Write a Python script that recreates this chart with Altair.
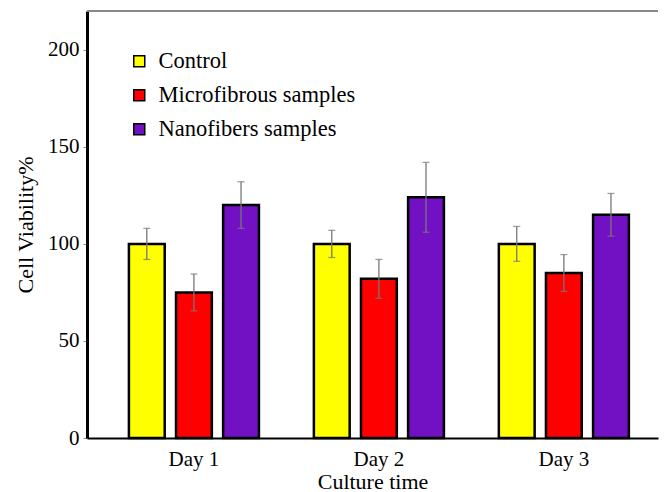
import altair as alt
import pandas as pd

days = ["Day 1", "Day 2", "Day 3"]
groups = ["Control", "Microfibrous samples", "Nanofibers samples"]
colors = ["#FFFF00", "#FF0000", "#7211C4"]

control_mean = [100, 100, 100]
control_err = [8, 7, 9]
micro_mean = [75, 82, 85]
micro_err = [9.5, 10, 9.5]
nano_mean = [120, 124, 115]
nano_err = [12, 18, 11]

rows = []
for g, means, errs in [(groups[0], control_mean, control_err),
                       (groups[1], micro_mean, micro_err),
                       (groups[2], nano_mean, nano_err)]:
    for d, m, e in zip(days, means, errs):
        rows.append({"day": d, "group": g, "mean": m, "lo": m - e, "hi": m + e})
df = pd.DataFrame(rows)

serif = "Liberation Serif"

x_enc = alt.X("day:N", sort=days,
              scale=alt.Scale(paddingInner=0.297, paddingOuter=0.192, align=0.59),
              axis=alt.Axis(title="Culture time", labelAngle=0, ticks=False,
                            labelPadding=10, titlePadding=2, labelFontSize=21,
                            titleFontSize=22,
                            domainColor="black", domainWidth=2))
xoff = alt.XOffset("group:N", sort=groups, scale=alt.Scale(paddingInner=0.24))

bars = alt.Chart(df).mark_bar(stroke="black", strokeWidth=2.5).encode(
    x=x_enc,
    xOffset=xoff,
    y=alt.Y("mean:Q", scale=alt.Scale(domain=[0, 220], nice=False),
            axis=alt.Axis(title="Cell Viability%", values=[0, 50, 100, 150, 200],
                          grid=False, domainColor="black", domainWidth=3,
                          tickColor="#888", tickSize=4, labelPadding=4,
                          labelFontSize=21, titleFontSize=22,
                          titlePadding=10)),
    color=alt.Color("group:N", sort=groups,
                    scale=alt.Scale(domain=groups, range=colors),
                    legend=alt.Legend(title=None, orient="none", legendX=41, legendY=39,
                                      symbolType="square", symbolSize=121,
                                      symbolStrokeColor="black", symbolStrokeWidth=1.5,
                                      labelFontSize=22.5, labelFont=serif, labelLimit=400,
                                      labelColor="black",
                                      rowPadding=11, labelOffset=8)),
)

rules = alt.Chart(df).mark_rule(color="#777", strokeWidth=1.3).encode(
    x=alt.X("day:N", sort=days), xOffset=xoff,
    y="lo:Q", y2="hi:Q")
caps_hi = alt.Chart(df).mark_tick(color="#777", size=7, thickness=1.3).encode(
    x=alt.X("day:N", sort=days), xOffset=xoff, y="hi:Q")
caps_lo = alt.Chart(df).mark_tick(color="#777", size=7, thickness=1.3).encode(
    x=alt.X("day:N", sort=days), xOffset=xoff, y="lo:Q")

top = alt.Chart(pd.DataFrame({"v": [220]})).mark_rule(color="#888", strokeWidth=2).encode(
    y="v:Q")

chart = alt.layer(bars, rules, caps_hi, caps_lo, top).properties(
    width=571, height=427,
    padding={"left": 6, "top": 2, "right": 0, "bottom": 0},
).configure_view(stroke=None).configure_axis(
    labelFont=serif, titleFont=serif,
    labelColor="black", titleColor="black", titleFontWeight="normal"
).configure_legend(labelFont=serif, labelColor="black")

chart.save("out.html", embed_options={"renderer": "svg", "actions": False})
